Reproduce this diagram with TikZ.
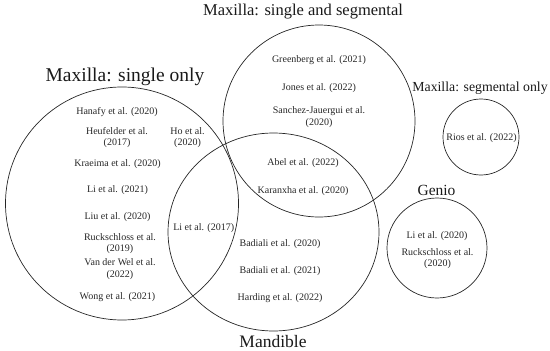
\documentclass[tikz,border=0pt]{standalone}
\usepackage{fontspec}
\setmainfont{Liberation Serif}
\begin{document}
\begin{tikzpicture}[x=1pt,y=-1pt,
  ring/.style={draw=black!85,line width=0.7pt},
  lbl/.style={font=\fontsize{10}{11.5}\selectfont,align=center,inner sep=0pt,text=black!85},
  ttl/.style={font=\fontsize{#1}{#1}\selectfont,inner sep=0pt,text=black!90}]
\useasboundingbox (0,0) rectangle (550,351);
\draw[ring] (122,203.5) circle (116.5);
\draw[ring] (273.5,232) ellipse (105.5 and 99);
\draw[ring] (319,121) circle (96);
\draw[ring] (481,137) circle (38);
\draw[ring] (437,248) circle (50);
% titles
\node[ttl=19.5] (t1) at (125,77) {Maxilla: single only};
\node[ttl=16.5] (t2) at (303,12) {Maxilla: single and segmental};
\node[ttl=13.8] (t3) at (480,88) {Maxilla: segmental only};
\node[ttl=15.5] (t4) at (436.5,190) {Genio};
\node[ttl=17.5,anchor=base] (t5) at (273,347) {Mandible};
% single only
\node[lbl] (a1) at (117,112) {Hanafy et al. (2020)};
\node[lbl] (a2) at (117,137.5) {Heufelder et al.\\(2017)};
\node[lbl] (a3) at (187.5,137.5) {Ho et al.\\(2020)};
\node[lbl] (a4) at (117.5,164) {Kraeima et al. (2020)};
\node[lbl] (a5) at (117.5,190) {Li et al. (2021)};
\node[lbl] (a6) at (117.5,217) {Liu et al. (2020)};
\node[lbl] (a7) at (120,243.5) {Ruckschloss et al.\\(2019)};
\node[lbl] (a8) at (120,269) {Van der Wel et al.\\(2022)};
\node[lbl] (a9) at (117.5,297) {Wong et al. (2021)};
\node[lbl] (b1) at (203.7,228) {Li et al. (2017)};
% single and segmental
\node[lbl] (c1) at (319,60) {Greenberg et al. (2021)};
\node[lbl] (c2) at (319,88) {Jones et al. (2022)};
\node[lbl] (c3) at (319,117) {Sanchez-Jauergui et al.\\(2020)};
\node[lbl] (c4) at (303,163) {Abel et al. (2022)};
\node[lbl] (c5) at (303,191) {Karanxha et al. (2020)};
% mandible
\node[lbl] (d1) at (280,244) {Badiali et al. (2020)};
\node[lbl] (d2) at (280,271) {Badiali et al. (2021)};
\node[lbl] (d3) at (280,298) {Harding et al. (2022)};
% segmental only
\node[lbl] (e1) at (481.5,138) {Rios et al. (2022)};
% genio
\node[lbl] (f1) at (437,236) {Li et al. (2020)};
\node[lbl] (f2) at (437.5,258.5) {Ruckschloss et al.\\(2020)};
\end{tikzpicture}
\end{document}
